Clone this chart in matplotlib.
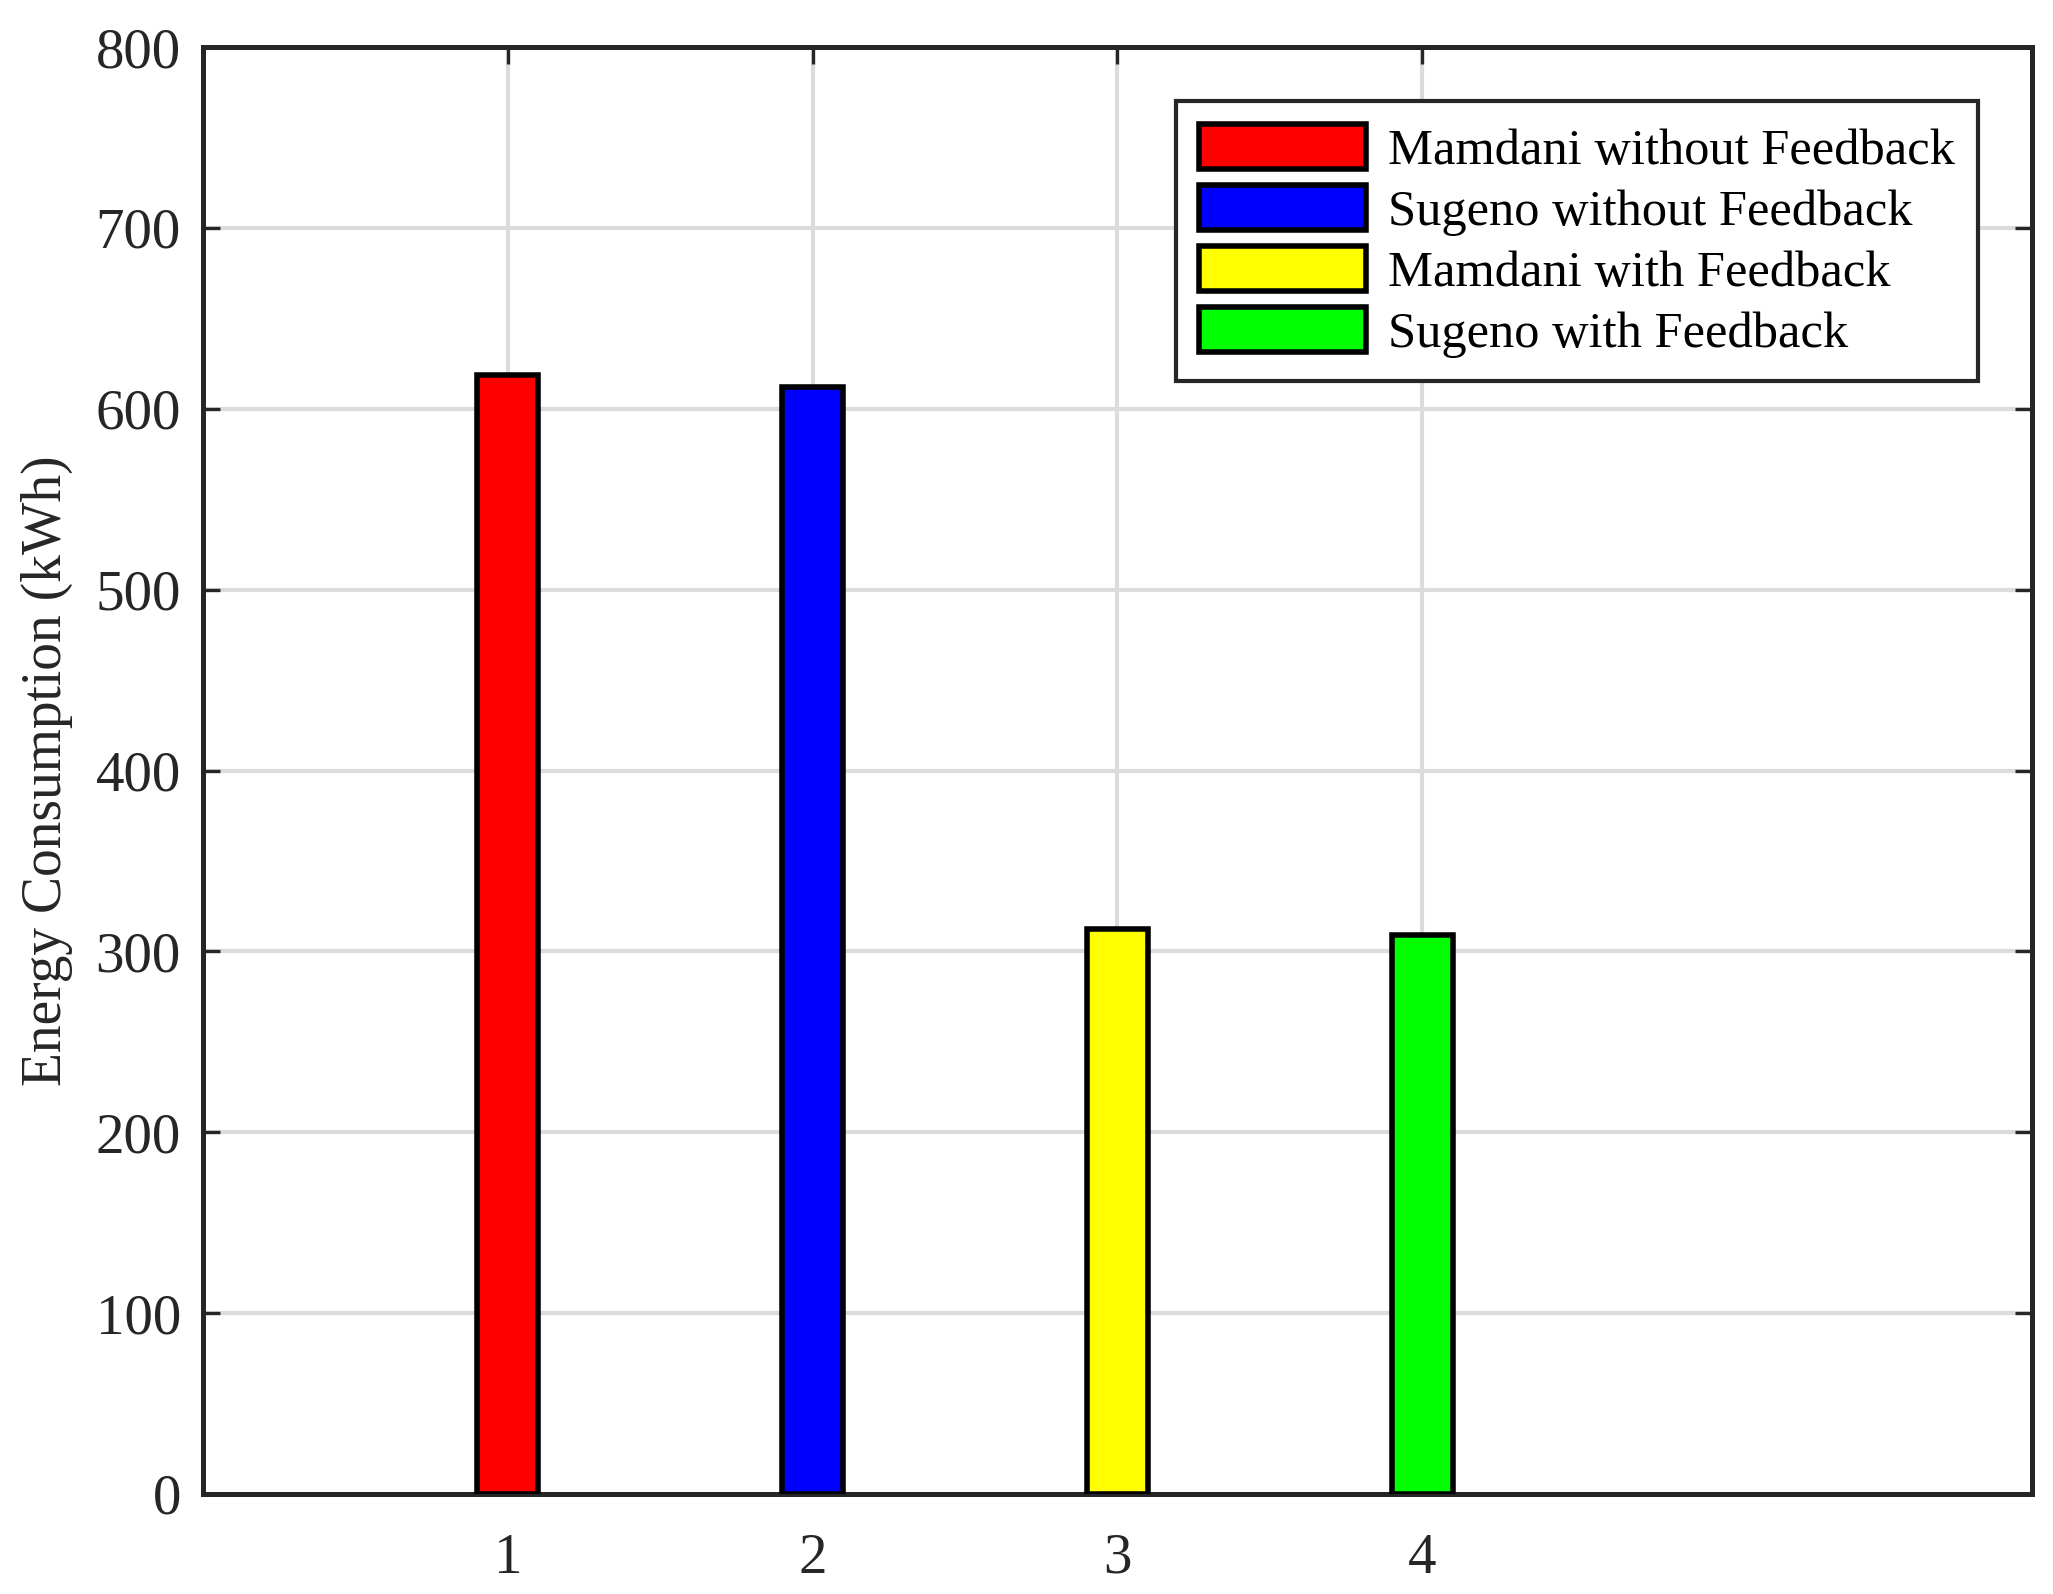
import matplotlib
matplotlib.use("Agg")
import matplotlib.pyplot as plt

categories = [1, 2, 3, 4]
values = [618.5, 611.8, 312.3, 309.3]
labels = ["Mamdani without Feedback", "Sugeno without Feedback",
          "Mamdani with Feedback", "Sugeno with Feedback"]
colors = ["#ff0000", "#0000ff", "#ffff00", "#00ff00"]
yticks = [0, 100, 200, 300, 400, 500, 600, 700, 800]
xticks = [1, 2, 3, 4]

plt.rcParams['font.family'] = ['Liberation Serif', 'DejaVu Serif']

fig = plt.figure(figsize=(10.265, 7.97), dpi=200)
ax = fig.add_axes([203/2053, 1 - 1494/1594, (2032-203)/2053, (1494-47)/1594])

for c, v, lab, col in zip(categories, values, labels, colors):
    ax.bar(c, v, width=0.2, color=col, edgecolor='black', linewidth=2.0,
           label=lab, zorder=3)

ax.set_xlim(0, 6)
ax.set_ylim(0, 800)
ax.set_xticks(xticks)
ax.set_yticks(yticks)
ax.grid(True, color='#dcdcdc', linewidth=1.5, zorder=0)
ax.set_axisbelow(True)
for s in ax.spines.values():
    s.set_color('#262626')
    s.set_linewidth(1.8)
ax.tick_params(direction='in', length=6, width=1.2, color='#262626',
               top=True, right=True, labelsize=20.5, labelcolor='#262626', pad=8)
ax.tick_params(axis='x', pad=14)
ax.set_ylabel("Energy Consumption (kWh)", fontsize=20, color='#262626', labelpad=8)

leg = ax.legend(loc='upper right', bbox_to_anchor=(1978/2053, 1 - 101/1594),
                bbox_transform=fig.transFigure, fontsize=18.2, frameon=True,
                fancybox=False, edgecolor='#262626', handlelength=3.3,
                handleheight=1.0, borderpad=0.45, labelspacing=0.2,
                handletextpad=0.45, borderaxespad=0)
leg.get_frame().set_linewidth(1.5)
leg.get_frame().set_alpha(1)

fig.savefig("out.png", dpi=200, facecolor='white')
